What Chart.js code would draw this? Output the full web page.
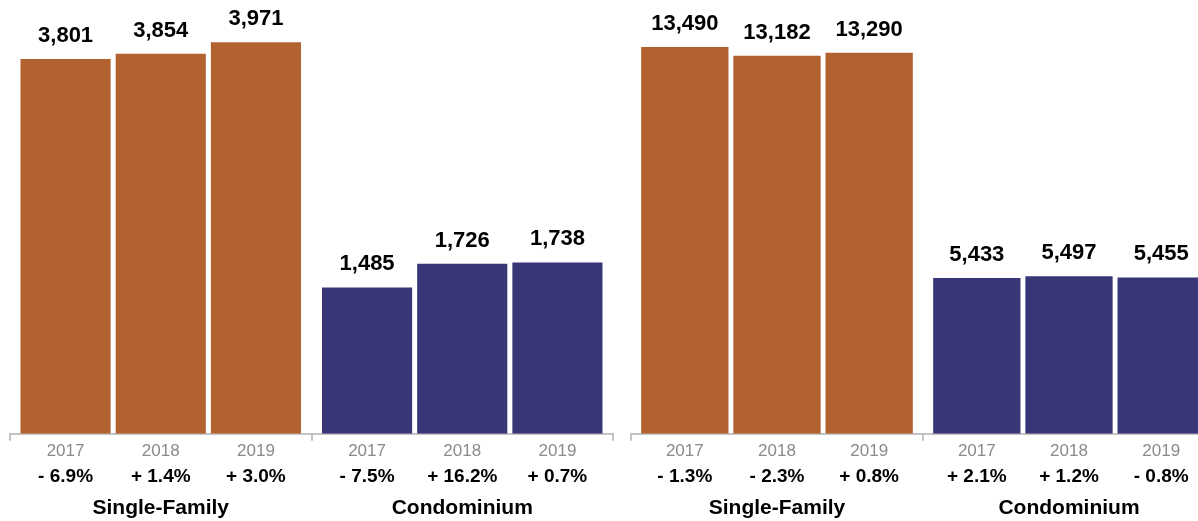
<!DOCTYPE html>
<html>
<head>
<meta charset="utf-8">
<script src="https://cdn.jsdelivr.net/npm/chart.js@4.4.1/dist/chart.umd.min.js"></script>
<style>
  html, body { margin: 0; padding: 0; background: #fff; overflow: hidden; }
  .panel { position: absolute; top: 0; height: 576px; }
  #leftWrap { left: 0; width: 620px; }
  #rightWrap { left: 620px; width: 620px; }
</style>
</head>
<body>
<div class="panel" id="leftWrap"><canvas id="leftChart"></canvas></div>
<div class="panel" id="rightWrap"><canvas id="rightChart"></canvas></div>
<script>
const groups = ['Single-Family', 'Condominium'];
const years = ['2017', '2018', '2019'];

// left panel
const leftSingle = [3801, 3854, 3971];
const leftCondo = [1485, 1726, 1738];
const leftSinglePct = ['- 6.9%', '+ 1.4%', '+ 3.0%'];
const leftCondoPct = ['- 7.5%', '+ 16.2%', '+ 0.7%'];

// right panel
const rightSingle = [13490, 13182, 13290];
const rightCondo = [5433, 5497, 5455];
const rightSinglePct = ['- 1.3%', '- 2.3%', '+ 0.8%'];
const rightCondoPct = ['+ 2.1%', '+ 1.2%', '- 0.8%'];

const orange = '#b2622f';
const navy = '#383677';
const axisGray = '#c4c4c4';
const fontFamily = '"Liberation Sans", Arial, Helvetica, sans-serif';

// draws values over bars, plus year and change under each bar
const barText = {
    id: 'barText',
    afterDatasetsDraw(chart, args, opts) {
        const ctx = chart.ctx;
        const bottom = chart.chartArea.bottom;
        ctx.save();
        ctx.textAlign = 'center';
        ctx.textBaseline = 'alphabetic';
        chart.data.datasets.forEach((ds, i) => {
            const meta = chart.getDatasetMeta(i);
            meta.data.forEach((bar, j) => {
                ctx.fillStyle = '#000';
                ctx.font = 'bold 22px ' + fontFamily;
                ctx.fillText(ds.data[j].toLocaleString('en-US'), bar.x, bar.y - 17);
                ctx.fillStyle = '#8a8a8a';
                ctx.font = '17px ' + fontFamily;
                ctx.fillText(years[i], bar.x, bottom + 22);
                ctx.fillStyle = '#000';
                ctx.font = 'bold 19px ' + fontFamily;
                ctx.fillText(opts.pct[j][i], bar.x, bottom + 48);
            });
        });
        ctx.restore();
    }
};

function makeChart(id, single, condo, singlePct, condoPct, yMax, pad) {
    const datasets = years.map((y, i) => ({
        label: y,
        data: [single[i], condo[i]],
        backgroundColor: [orange, navy],
        borderWidth: 0,
        categoryPercentage: 0.947,
        barPercentage: 0.947
    }));
    return new Chart(document.getElementById(id).getContext('2d'), {
        type: 'bar',
        data: { labels: groups, datasets: datasets },
        plugins: [barText],
        options: {
            responsive: true,
            maintainAspectRatio: false,
            animation: false,
            layout: { padding: pad },
            plugins: {
                legend: { display: false },
                tooltip: { enabled: false },
                barText: { pct: [singlePct, condoPct] }
            },
            scales: {
                x: {
                    grid: {
                        display: true,
                        drawOnChartArea: false,
                        drawTicks: true,
                        tickLength: 7,
                        color: axisGray,
                        lineWidth: 2
                    },
                    border: { display: true, color: axisGray, width: 2 },
                    ticks: {
                        color: '#000',
                        padding: 55,
                        font: { family: fontFamily, size: 21, weight: 'bold' }
                    }
                },
                y: {
                    display: false,
                    min: 0,
                    max: yMax
                }
            }
        }
    });
}

makeChart('leftChart', leftSingle, leftCondo, leftSinglePct, leftCondoPct, 4400,
    { left: 10, right: 7, top: 0, bottom: 0 });
makeChart('rightChart', rightSingle, rightCondo, rightSinglePct, rightCondoPct, 15130,
    { left: 11, right: 25, top: 0, bottom: 0 });
</script>
</body>
</html>
